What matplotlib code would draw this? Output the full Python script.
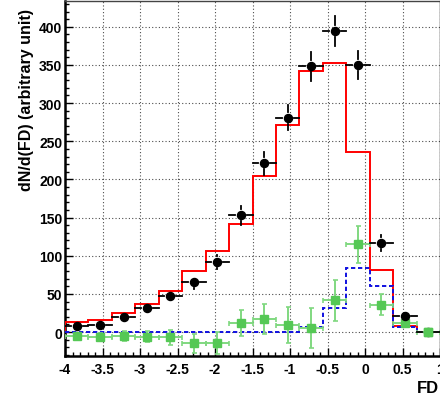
import numpy as np
import matplotlib
matplotlib.use("Agg")
import matplotlib.pyplot as plt
from matplotlib.ticker import MultipleLocator

# ---- data ----
bin_edges = np.linspace(-4.0, 1.0, 17)
data_vals = [8, 9, 20, 31, 47, 65, 92, 153, 221, 281, 348, 394, 350, 117, 21, 0]
data_errs = [3, 3, 4.5, 5.6, 6.9, 8, 9.6, 12.4, 14.9, 16.8, 18.7, 19.8, 18.7, 10.8, 4.6, 0]
red_hist = [13.6, 15.8, 25, 37, 54, 80, 106, 141, 205, 271, 342, 352, 236, 81, 8, 0.5]
blue_hist = [0.5, 0.5, 0.5, 0.5, 0.5, 0.5, 0.5, 0.5, 0.5, 0.5, 6, 31.6, 84, 60, 7, 0]
green_vals = [-5.7, -6, -5, -6, -6.8, -14.5, -14.5, 12.3, 17, 9.2, 5.7, 41.7, 115, 36, 11.8, 0]
green_errs = [5, 5, 6.5, 7, 10, 12.5, 14, 17, 20, 24, 26, 27, 24, 14, 5, 2]
xticks = [-4, -3.5, -3, -2.5, -2, -1.5, -1, -0.5, 0, 0.5, 1]
xticklabels = ["-4", "-3.5", "-3", "-2.5", "-2", "-1.5", "-1", "-0.5", "0", "0.5", "1"]
yticks = [0, 50, 100, 150, 200, 250, 300, 350, 400]

plt.rcParams['font.family'] = ['Liberation Sans', 'DejaVu Sans']
plt.rcParams['font.weight'] = 'bold'

fig = plt.figure(figsize=(4.40, 4.02), dpi=100)
ax = fig.add_axes([65/440, 1-357/402, (440-65)/440, (357-2)/402])

centers = 0.5 * (bin_edges[:-1] + bin_edges[1:])
halfw = 0.5 * (bin_edges[1] - bin_edges[0])
data_vals = np.array(data_vals, float)
data_errs = np.array(data_errs, float)

ax.set_xlim(-4, 1)
ax.set_ylim(-31.4, 433.8)

# grid
ax.grid(True, which='major', color='black', linestyle=(0, (1, 2)), linewidth=0.8, alpha=0.7)
ax.set_axisbelow(True)

# histograms
ax.stairs(red_hist, bin_edges, color='#ff0000', linewidth=1.4, zorder=3)
ax.stairs(blue_hist, bin_edges, color='#1010e0', linewidth=1.4, linestyle=(0, (2.2, 1.4)), zorder=3)

# green points
ax.errorbar(centers, green_vals, yerr=green_errs, xerr=halfw, fmt='s', color='#55c855',
            ecolor='#80d880', elinewidth=1.4, capsize=1.8, capthick=1.2, markersize=5.5,
            markeredgecolor='#55c855', zorder=4)

# black data points with ROOT-like gap around the marker
px_per_x = 375 / 5.0
px_per_y = 305.3 / 400.0
gx = 6.0 / px_per_x
gy = 6.0 / px_per_y
for xc, yv, ye in zip(centers, data_vals, data_errs):
    ax.plot([xc - halfw, xc - gx], [yv, yv], color='black', lw=1.3, zorder=5)
    ax.plot([xc + gx, xc + halfw], [yv, yv], color='black', lw=1.3, zorder=5)
    if ye > gy:
        ax.plot([xc, xc], [yv + gy, yv + ye], color='black', lw=1.3, zorder=5)
        ax.plot([xc, xc], [yv - ye, yv - gy], color='black', lw=1.3, zorder=5)
ax.plot(centers, data_vals, 'o', color='black', markersize=5.8, zorder=6)

# redraw green marker on top at last bin
ax.plot(centers[-1:], [green_vals[-1]], 's', color='#55c855', markersize=5.5, zorder=7)

# ticks
ax.set_xticks(xticks)
ax.set_xticklabels(xticklabels)
ax.set_yticks(yticks)
ax.xaxis.set_minor_locator(MultipleLocator(0.1))
ax.yaxis.set_minor_locator(MultipleLocator(10))
ax.tick_params(which='both', direction='in', top=False, right=False, width=1.0, color='black')
ax.tick_params(which='major', length=5.5)
ax.tick_params(which='minor', length=2.7)
ax.tick_params(axis='x', which='major', pad=4, labelsize=10)
ax.tick_params(axis='y', which='major', pad=2, labelsize=10)
for lbl in ax.get_xticklabels() + ax.get_yticklabels():
    lbl.set_fontweight('bold')

for s in ['left', 'bottom']:
    ax.spines[s].set_linewidth(1.8)
ax.spines['top'].set_linewidth(1.0)
ax.spines['top'].set_color('#444444')
ax.spines['right'].set_linewidth(1.0)

fig.text(26/440, 1-100/402, 'dN/d(FD) (arbitrary unit)', rotation=90, ha='center', va='center',
         fontsize=11.5, fontweight='bold')
fig.text(439/440, 1-389/402, 'FD', ha='right', va='center', fontsize=12, fontweight='bold')

fig.savefig('out.png', dpi=100)
